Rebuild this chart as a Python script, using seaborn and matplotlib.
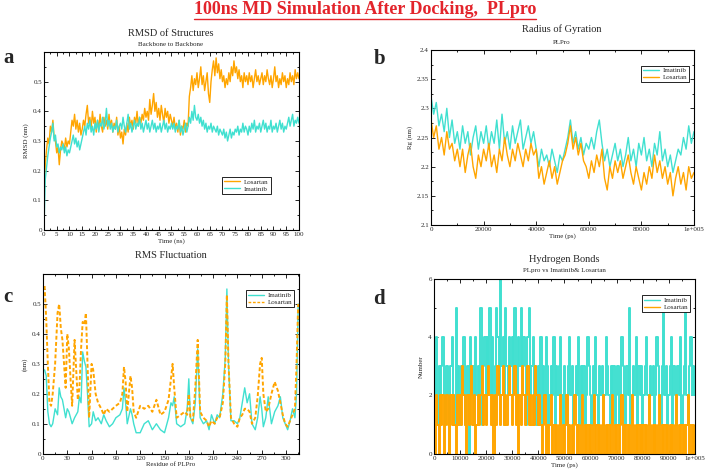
import numpy as np
import pandas as pd
import matplotlib
matplotlib.use("Agg")
import matplotlib.pyplot as plt
from matplotlib.ticker import MultipleLocator, FuncFormatter
from matplotlib.lines import Line2D
import seaborn as sns

# ---- data ----
# RMSD, every 0.5 ns
rmsd_time = np.arange(0, 100.5, 0.5)
rmsd_losartan = [
    0.10, 0.22, 0.27, 0.31, 0.29, 0.35, 0.33, 0.37, 0.31, 0.30, 0.26,
    0.28, 0.22, 0.27, 0.30, 0.29, 0.27, 0.31, 0.28, 0.30, 0.29,
    0.33, 0.37, 0.35, 0.39, 0.34, 0.37, 0.33, 0.36, 0.32, 0.34,
    0.37, 0.35, 0.39, 0.42, 0.36, 0.38, 0.34, 0.40, 0.36, 0.38,
    0.33, 0.37, 0.34, 0.39, 0.35, 0.33, 0.38, 0.35, 0.37, 0.34,
    0.39, 0.35, 0.37, 0.33, 0.36, 0.34, 0.38, 0.32, 0.35, 0.31,
    0.33, 0.29, 0.34, 0.32, 0.36, 0.33, 0.38, 0.35, 0.37, 0.34,
    0.38, 0.36, 0.40, 0.35, 0.38, 0.36, 0.39, 0.37, 0.41, 0.38,
    0.40, 0.37, 0.44, 0.39, 0.42, 0.46, 0.40, 0.43, 0.38, 0.41,
    0.37, 0.42, 0.39, 0.36, 0.41, 0.38, 0.40, 0.36, 0.39, 0.37,
    0.35, 0.38, 0.34, 0.36, 0.33, 0.37, 0.32, 0.35, 0.34, 0.37,
    0.33, 0.36, 0.35, 0.45, 0.48, 0.52, 0.47, 0.51, 0.49, 0.53,
    0.48, 0.51, 0.55, 0.49, 0.52, 0.47, 0.50, 0.53, 0.46, 0.43,
    0.50, 0.54, 0.57, 0.52, 0.58, 0.53, 0.56, 0.51, 0.54, 0.50,
    0.52, 0.48, 0.51, 0.49, 0.53, 0.50, 0.55, 0.52, 0.57, 0.53,
    0.55, 0.51, 0.54, 0.50, 0.52, 0.48, 0.53, 0.50, 0.52, 0.49,
    0.53, 0.50, 0.52, 0.48, 0.51, 0.54, 0.50, 0.52, 0.49, 0.51,
    0.53, 0.49, 0.52, 0.50, 0.54, 0.51, 0.49, 0.52, 0.48, 0.51,
    0.55, 0.50, 0.52, 0.48, 0.51, 0.49, 0.53, 0.50, 0.52, 0.48,
    0.51, 0.49, 0.53, 0.50, 0.52, 0.49, 0.54, 0.51, 0.53, 0.51,
]
rmsd_imatinib = [
    0.00, 0.17, 0.21, 0.25, 0.28, 0.31, 0.33, 0.36, 0.30, 0.32, 0.28,
    0.29, 0.26, 0.28, 0.27, 0.29, 0.26, 0.28, 0.25, 0.27, 0.26,
    0.28, 0.30, 0.32, 0.29, 0.31, 0.28, 0.30, 0.27, 0.29, 0.31,
    0.33, 0.35, 0.32, 0.36, 0.34, 0.37, 0.33, 0.35, 0.32, 0.36,
    0.34, 0.37, 0.33, 0.36, 0.35, 0.38, 0.34, 0.36, 0.41, 0.35,
    0.37, 0.34, 0.36, 0.33, 0.35, 0.34, 0.37, 0.33, 0.35, 0.36,
    0.34, 0.38, 0.35, 0.33, 0.36, 0.39, 0.34, 0.36, 0.33, 0.35,
    0.37, 0.34, 0.36, 0.35, 0.38, 0.34, 0.36, 0.33, 0.35, 0.37,
    0.34, 0.36, 0.33, 0.35, 0.37, 0.34, 0.36, 0.33, 0.35, 0.34,
    0.36, 0.33, 0.35, 0.37, 0.34, 0.36, 0.33, 0.35, 0.34, 0.36,
    0.34, 0.36, 0.33, 0.35, 0.34, 0.37, 0.33, 0.35, 0.32, 0.34,
    0.36, 0.33, 0.35, 0.38, 0.36, 0.40, 0.37, 0.42, 0.38, 0.37,
    0.39, 0.36, 0.38, 0.35, 0.37, 0.34, 0.36, 0.33, 0.35, 0.34,
    0.36, 0.33, 0.35, 0.34, 0.33, 0.35, 0.32, 0.34, 0.33, 0.32,
    0.34, 0.31, 0.33, 0.30, 0.32, 0.34, 0.31, 0.33, 0.32, 0.34,
    0.33, 0.35, 0.32, 0.34, 0.33, 0.36, 0.33, 0.35, 0.34, 0.32,
    0.35, 0.33, 0.36, 0.34, 0.37, 0.33, 0.35, 0.34, 0.36, 0.33,
    0.35, 0.37, 0.34, 0.36, 0.33, 0.35, 0.34, 0.37, 0.33, 0.35,
    0.34, 0.36, 0.33, 0.35, 0.37, 0.34, 0.36, 0.33, 0.35, 0.34,
    0.36, 0.38, 0.35, 0.37, 0.39, 0.35, 0.37, 0.36, 0.38, 0.36,
]

# Radius of gyration, every 1000 ps
rg_time = np.arange(0, 101000, 1000)
rg_imatinib = [
    2.32, 2.29, 2.31, 2.27, 2.29, 2.26, 2.30, 2.25, 2.28, 2.24, 2.26,
    2.23, 2.27, 2.24, 2.26, 2.22, 2.25, 2.27, 2.23, 2.26, 2.24,
    2.27, 2.23, 2.26, 2.24, 2.28, 2.23, 2.29, 2.24, 2.26, 2.23,
    2.27, 2.24, 2.26, 2.28, 2.23, 2.25, 2.27, 2.24, 2.26, 2.23,
    2.20, 2.23, 2.21, 2.22, 2.20, 2.23, 2.21, 2.19, 2.22, 2.21,
    2.23, 2.25, 2.28, 2.24, 2.26, 2.23, 2.25, 2.22, 2.24, 2.23,
    2.25, 2.23, 2.26, 2.28, 2.24, 2.21, 2.23, 2.20, 2.22, 2.24,
    2.21, 2.23, 2.20, 2.22, 2.25, 2.21, 2.23, 2.20, 2.24, 2.22,
    2.25, 2.21, 2.23, 2.20, 2.24, 2.22, 2.26, 2.21, 2.23, 2.20,
    2.22, 2.19, 2.21, 2.23, 2.22, 2.25, 2.23, 2.27, 2.24, 2.26,
]
rg_losartan = [
    2.28, 2.25, 2.27, 2.23, 2.25, 2.22, 2.26, 2.23, 2.24, 2.21, 2.23,
    2.20, 2.23, 2.19, 2.22, 2.24, 2.20, 2.18, 2.22, 2.20, 2.23,
    2.21, 2.24, 2.20, 2.22, 2.19, 2.23, 2.21, 2.25, 2.22, 2.20,
    2.23, 2.21, 2.24, 2.22, 2.20, 2.23, 2.21, 2.24, 2.22, 2.23,
    2.18, 2.20, 2.17, 2.19, 2.21, 2.18, 2.20, 2.17, 2.19, 2.21,
    2.22, 2.24, 2.27, 2.23, 2.25, 2.22, 2.24, 2.21, 2.20, 2.18,
    2.21, 2.19, 2.22, 2.20, 2.23, 2.18, 2.16, 2.20, 2.18, 2.21,
    2.19, 2.21, 2.18, 2.20, 2.22, 2.19, 2.17, 2.20, 2.18, 2.16,
    2.19, 2.17, 2.20, 2.18, 2.22, 2.19, 2.21, 2.18, 2.20, 2.17,
    2.19, 2.15, 2.18, 2.20, 2.17, 2.19, 2.16, 2.20, 2.18, 2.19,
]

# RMS fluctuation per residue
residue = [
    2, 4, 6, 8, 10, 12, 15, 18, 20, 22, 24, 26, 28, 30, 32, 34, 36, 39, 41, 43,
    45, 47, 49, 51, 53, 55, 57, 60, 62, 65, 68, 72, 75, 78, 82, 86, 90, 95, 98, 100,
    102, 104, 108, 110, 112, 115, 120, 125, 130, 135, 140, 145, 150, 155, 158, 160, 162, 165, 170, 175,
    178, 180, 182, 185, 188, 191, 194, 198, 202, 205, 208, 212, 215, 218, 222, 225, 227, 229, 232, 236,
    240, 243, 246, 249, 252, 255, 258, 262, 265, 268, 270, 272, 275, 278, 282, 286, 290, 293, 296, 299,
    302, 305, 308, 311, 313, 315,
]
rmsf_imatinib = [
    0.28, 0.26, 0.14, 0.10, 0.09, 0.10, 0.15, 0.13, 0.22, 0.19, 0.18, 0.15, 0.12, 0.15, 0.14, 0.12, 0.10, 0.12, 0.13, 0.14,
    0.19, 0.17, 0.34, 0.31, 0.29, 0.20, 0.09, 0.10, 0.14, 0.11, 0.12, 0.10, 0.13, 0.11, 0.09, 0.10, 0.12, 0.13, 0.15, 0.22,
    0.17, 0.10, 0.15, 0.13, 0.10, 0.07, 0.07, 0.10, 0.11, 0.08, 0.10, 0.08, 0.07, 0.12, 0.17, 0.16, 0.19, 0.10, 0.09, 0.10,
    0.15, 0.25, 0.12, 0.10, 0.17, 0.35, 0.12, 0.10, 0.11, 0.08, 0.13, 0.10, 0.13, 0.12, 0.20, 0.32, 0.55, 0.30, 0.11, 0.11,
    0.10, 0.12, 0.17, 0.22, 0.17, 0.20, 0.10, 0.08, 0.12, 0.19, 0.15, 0.09, 0.12, 0.19, 0.10, 0.14, 0.16, 0.19, 0.12, 0.10,
    0.08, 0.11, 0.15, 0.12, 0.20, 0.50,
]
rmsf_losartan = [
    0.56, 0.45, 0.30, 0.17, 0.16, 0.20, 0.30, 0.47, 0.50, 0.42, 0.38, 0.30, 0.22, 0.40, 0.35, 0.25, 0.16, 0.38, 0.28, 0.18,
    0.22, 0.35, 0.44, 0.43, 0.47, 0.30, 0.12, 0.30, 0.28, 0.20, 0.17, 0.15, 0.13, 0.15, 0.14, 0.15, 0.16, 0.17, 0.20, 0.29,
    0.24, 0.14, 0.26, 0.22, 0.14, 0.12, 0.16, 0.15, 0.16, 0.14, 0.18, 0.13, 0.14, 0.18, 0.25, 0.30, 0.22, 0.12, 0.13, 0.14,
    0.13, 0.20, 0.12, 0.11, 0.22, 0.38, 0.14, 0.12, 0.11, 0.09, 0.11, 0.10, 0.12, 0.12, 0.17, 0.30, 0.53, 0.30, 0.12, 0.10,
    0.09, 0.12, 0.13, 0.15, 0.15, 0.14, 0.10, 0.12, 0.19, 0.30, 0.32, 0.20, 0.14, 0.15, 0.20, 0.24, 0.21, 0.17, 0.13, 0.10,
    0.09, 0.11, 0.13, 0.15, 0.30, 0.50,
]

# Hydrogen bonds, every 500 ps
hb_time = np.arange(0, 100500, 500)
hb_imatinib = [
    3, 2, 4, 1, 3, 2, 3, 4, 2, 1, 3, 2, 0, 3, 4, 2, 1, 5, 2, 3,
    1, 3, 2, 4, 1, 2, 3, 0, 4, 2, 3, 1, 4, 2, 3, 2, 5, 1, 3, 4,
    2, 4, 3, 5, 2, 4, 1, 3, 5, 4, 2, 6, 3, 4, 1, 5, 3, 2, 4, 3,
    4, 2, 5, 3, 1, 4, 3, 5, 2, 4, 3, 1, 4, 5, 2, 3, 4, 2, 3, 1,
    3, 2, 4, 1, 3, 2, 4, 3, 1, 2, 3, 2, 4, 1, 3, 2, 3, 4, 2, 1,
    3, 2, 1, 3, 4, 2, 3, 1, 2, 3, 2, 4, 1, 3, 2, 3, 1, 2, 4, 3,
    2, 1, 3, 2, 4, 2, 1, 3, 2, 3, 1, 2, 4, 3, 2, 1, 3, 2, 3, 1,
    2, 3, 1, 2, 4, 3, 2, 1, 3, 2, 5, 1, 2, 3, 2, 4, 1, 3, 2, 3,
    1, 2, 3, 4, 2, 1, 3, 2, 3, 1, 2, 4, 3, 2, 1, 3, 5, 2, 3, 1,
    2, 3, 4, 1, 3, 2, 1, 3, 2, 4, 1, 2, 3, 5, 2, 1, 3, 4, 2, 3, 2,
]
hb_losartan = [
    1, 0, 2, 1, 0, 2, 1, 2, 0, 1, 2, 1, 0, 2, 1, 2, 1, 0, 2, 1,
    2, 1, 3, 2, 1, 0, 2, 1, 2, 3, 1, 2, 0, 1, 2, 1, 2, 3, 1, 2,
    1, 2, 3, 2, 1, 2, 0, 2, 1, 3, 2, 1, 2, 3, 1, 2, 1, 2, 3, 2,
    1, 2, 3, 1, 2, 0, 2, 1, 3, 2, 1, 2, 3, 1, 2, 1, 2, 1, 3, 2,
    1, 2, 1, 0, 1, 2, 0, 1, 0, 1, 2, 0, 1, 0, 1, 0, 1, 2, 0, 1,
    0, 1, 2, 0, 1, 0, 1, 0, 2, 1, 0, 1, 0, 1, 2, 0, 1, 0, 1, 0,
    1, 0, 1, 2, 0, 1, 0, 1, 0, 1, 2, 0, 1, 0, 1, 0, 1, 2, 0, 1,
    0, 1, 0, 1, 2, 0, 1, 0, 1, 0, 1, 0, 2, 1, 0, 1, 0, 1, 0, 1,
    0, 1, 0, 1, 0, 2, 1, 0, 1, 0, 1, 0, 1, 2, 0, 1, 0, 1, 0, 1,
    0, 1, 0, 1, 0, 1, 2, 0, 1, 0, 1, 0, 1, 0, 1, 2, 0, 1, 0, 1, 0,
]

ORANGE = "#FFA500"
TURQ = "#40E0D0"

sns.set_theme(style="ticks")
plt.rcParams["font.family"] = ["Liberation Serif", "DejaVu Serif"]

fig = plt.figure(figsize=(7.08, 4.73), dpi=100)
ax_a = fig.add_axes([0.0621, 0.5137, 0.3602, 0.3764])
ax_b = fig.add_axes([0.6088, 0.5243, 0.3714, 0.3700])
ax_c = fig.add_axes([0.0607, 0.0408, 0.3616, 0.3799])
ax_d = fig.add_axes([0.6130, 0.0408, 0.3686, 0.3693])


def grace_style(ax, xmaj, xmin, ymaj, ymin, big_x=False):
    for s in ax.spines.values():
        s.set_visible(True)
        s.set_linewidth(0.8)
        s.set_color("black")
    ax.xaxis.set_major_locator(MultipleLocator(xmaj))
    ax.xaxis.set_minor_locator(MultipleLocator(xmin))
    ax.yaxis.set_major_locator(MultipleLocator(ymaj))
    ax.yaxis.set_minor_locator(MultipleLocator(ymin))
    ax.tick_params(which="both", direction="in", top=True, right=True,
                   labelsize=5, pad=1.5, color="black", width=0.6)
    ax.tick_params(which="major", length=3)
    ax.tick_params(which="minor", length=1.5)
    ax.yaxis.set_major_formatter(FuncFormatter(lambda v, p: "%g" % round(v, 3)))
    if big_x:
        ax.xaxis.set_major_formatter(FuncFormatter(
            lambda v, p: "1e+005" if v >= 99999 else "%g" % v))
    else:
        ax.xaxis.set_major_formatter(FuncFormatter(lambda v, p: "%g" % v))


def grace_legend(ax, loc, anchor):
    leg = ax.legend(loc=loc, bbox_to_anchor=anchor, fontsize=5, frameon=True,
                    fancybox=False, edgecolor="black", framealpha=1,
                    handlelength=2.2, borderpad=0.3, labelspacing=0.15,
                    handletextpad=0.6)
    leg.get_frame().set_linewidth(0.6)
    for h in leg.get_lines():
        h.set_linewidth(1.0)


# a: RMSD
sns.lineplot(x=rmsd_time, y=rmsd_losartan, ax=ax_a, color=ORANGE, lw=1.0, label="Losartan")
sns.lineplot(x=rmsd_time, y=rmsd_imatinib, ax=ax_a, color=TURQ, lw=1.0, label="Imatinib")
ax_a.set_xlim(0, 100)
ax_a.set_ylim(0, 0.6)
grace_style(ax_a, 5, 2.5, 0.1, 0.05)
ax_a.set_yticks([0, 0.1, 0.2, 0.3, 0.4, 0.5])
ax_a.set_xlabel("Time (ns)", fontsize=5, labelpad=1)
ax_a.set_ylabel("RMSD (nm)", fontsize=5, labelpad=3)
grace_legend(ax_a, "lower right", (0.902, 0.185))

# b: Radius of gyration
sns.lineplot(x=rg_time, y=rg_imatinib, ax=ax_b, color=TURQ, lw=1.0, label="Imatinib")
sns.lineplot(x=rg_time, y=rg_losartan, ax=ax_b, color=ORANGE, lw=1.0, label="Losartan")
ax_b.set_xlim(0, 100000)
ax_b.set_ylim(2.1, 2.4)
grace_style(ax_b, 20000, 10000, 0.05, 0.025, big_x=True)
ax_b.set_xlabel("Time (ps)", fontsize=5, labelpad=1)
ax_b.set_ylabel("Rg (nm)", fontsize=5, labelpad=3)
grace_legend(ax_b, "upper right", (0.996, 0.931))

# c: RMSF
sns.lineplot(x=residue, y=rmsf_imatinib, ax=ax_c, color=TURQ, lw=1.0, label="Imatinib")
sns.lineplot(x=residue, y=rmsf_losartan, ax=ax_c, color=ORANGE, lw=1.4,
             linestyle=(0, (2.0, 1.2)), label="Losartan")
ax_c.set_xlim(0, 316)
ax_c.set_ylim(0, 0.6)
grace_style(ax_c, 30, 15, 0.1, 0.05)
ax_c.set_yticks([0, 0.1, 0.2, 0.3, 0.4, 0.5])
ax_c.set_xlabel("Residue of PLPro", fontsize=5, labelpad=1)
ax_c.set_ylabel("(nm)", fontsize=5, labelpad=3)
grace_legend(ax_c, "upper right", (0.996, 0.928))

# d: Hydrogen bonds
sns.lineplot(x=hb_time, y=hb_imatinib, ax=ax_d, color=TURQ, lw=1.4,
             drawstyle="steps-mid", label="Imatinib")
sns.lineplot(x=hb_time, y=hb_losartan, ax=ax_d, color=ORANGE, lw=1.4,
             drawstyle="steps-mid", label="Losartan")
ax_d.set_xlim(0, 100000)
ax_d.set_ylim(0, 6)
grace_style(ax_d, 10000, 5000, 2, 1, big_x=True)
ax_d.set_xlabel("Time (ps)", fontsize=5, labelpad=1)
ax_d.set_ylabel("Number", fontsize=5, labelpad=3)
grace_legend(ax_d, "upper right", (0.996, 0.927))

# panel titles (figure pixel positions)
W, H = 708.0, 473.0


def ftext(x, y, s, **kw):
    return fig.text(x / W, 1 - y / H, s, ha="center", va="center", **kw)


ftext(171, 33, "RMSD of Structures", fontsize=7.5)
ftext(171, 44, "Backbone to Backbone", fontsize=5)
ftext(562, 29, "Radius of Gyration", fontsize=7.5)
ftext(562, 43, "PLPro", fontsize=5)
ftext(171, 256, "RMS Fluctuation", fontsize=7.5)
ftext(564, 259, "Hydrogen Bonds", fontsize=7.5)
ftext(564, 270, "PLpro vs Imatinib& Losartan", fontsize=5)

for x, y, s in [(9, 58, "a"), (380, 59, "b"), (8, 297, "c"), (379, 299, "d")]:
    ftext(x, y, s, fontsize=15, fontweight="bold")

title = ftext(365, 10, "100ns MD Simulation After Docking,  PLpro",
              fontsize=13, fontweight="bold", color="#E3242B")
fig.canvas.draw()
bb = title.get_window_extent(fig.canvas.get_renderer())
uy = bb.y0 - 0.5
fig.add_artist(Line2D([bb.x0 / fig.bbox.width, bb.x1 / fig.bbox.width],
                      [uy / fig.bbox.height, uy / fig.bbox.height],
                      color="#E3242B", lw=1.0, transform=fig.transFigure))

fig.savefig("out.png", dpi=100)
